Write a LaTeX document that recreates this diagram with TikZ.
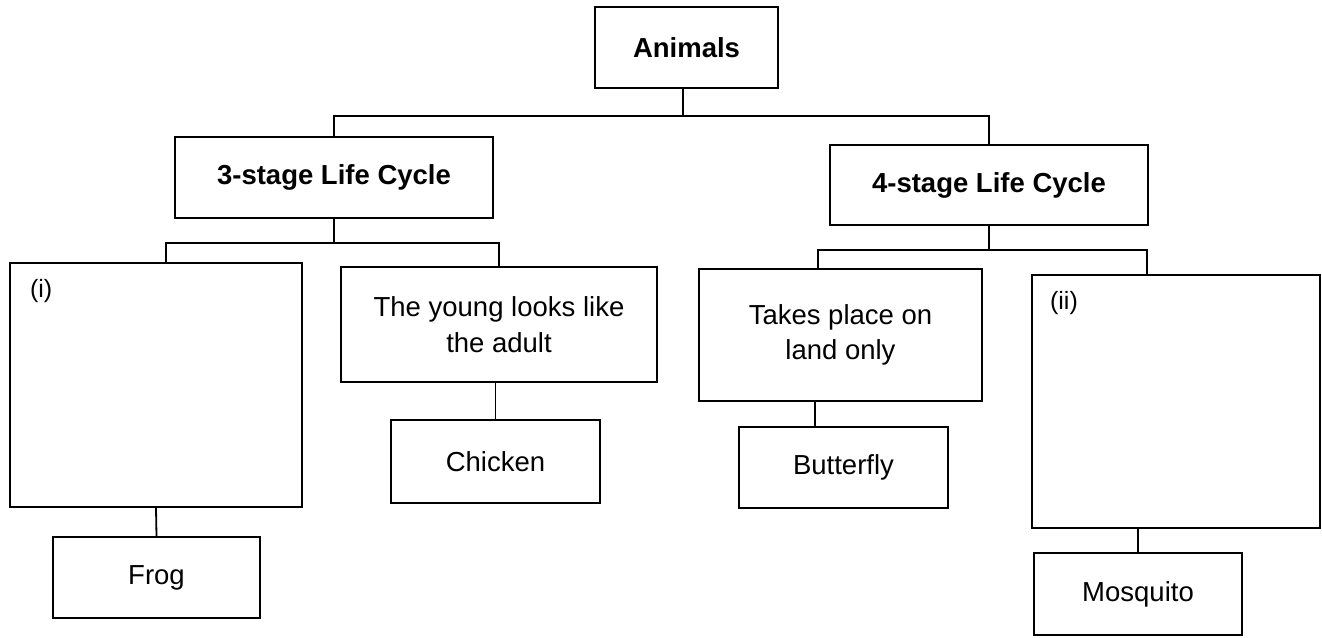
\documentclass[tikz,border=0pt]{standalone}
\usepackage{fontspec}
\setmainfont{Liberation Sans}
\begin{document}
\begin{tikzpicture}[x=1pt,y=-1pt,
  box/.style={draw=black, line width=2.2pt, rectangle, inner sep=0pt, align=center,
    font=\fontsize{27.5}{35.5}\selectfont},
  bbox/.style={box, font=\fontsize{27.5}{35.5}\selectfont\bfseries},
  conn/.style={draw=black, line width=1.8pt},
  tag/.style={anchor=north west, inner sep=0pt, font=\fontsize{25}{30}\selectfont}]
\useasboundingbox (0,0) rectangle (1322,637);
% level 0
\node[bbox, minimum width=183pt, minimum height=81pt] (animals) at (686.5,47.5) {Animals};
% level 1
\node[bbox, minimum width=318pt, minimum height=81pt] (three) at (334,177.5) {3-stage Life Cycle};
\node[bbox, minimum width=318pt, minimum height=80pt] (four) at (989,185) {4-stage Life Cycle};
% level 2
\node[box, minimum width=292pt, minimum height=244pt] (boxi) at (156,385) {};
\node[box, minimum width=316pt, minimum height=115pt] (young) at (499,324.5) {The young looks like\\the adult};
\node[box, minimum width=283pt, minimum height=132pt] (takes) at (840.5,335) {Takes place on\\land only};
\node[box, minimum width=288pt, minimum height=253pt] (boxii) at (1176,401.5) {};
\node[tag] (labi) at ([xshift=21pt,yshift=-17pt]boxi.north west) {(i)};
\node[tag] (labii) at ([xshift=19pt,yshift=-17pt]boxii.north west) {(ii)};
% level 3
\node[box, minimum width=207pt, minimum height=81pt] (frog) at (156.5,577.5) {Frog};
\node[box, minimum width=209pt, minimum height=83pt] (chicken) at (495.5,461.5) {Chicken};
\node[box, minimum width=209pt, minimum height=81pt] (butterfly) at (843.5,467.5) {Butterfly};
\node[box, minimum width=208pt, minimum height=82pt] (mosquito) at (1138,594) {Mosquito};
% bus coordinates
\coordinate (b1) at (683,116);
\coordinate (b2l) at (166,243);
\coordinate (b2r) at (499,243);
\coordinate (b3l) at (818,250);
\coordinate (b3r) at (1147,250);
\coordinate (c1) at (815,0);
% connectors
\draw[conn] (b1 |- animals.south) -- (b1);
\draw[conn] (three.north) |- (b1) -| (four.north);
\draw[conn] (three.south) -- (three.south |- b2l);
\draw[conn] (b2l |- boxi.north) -- (b2l) -- (b2r) -- (young.north);
\draw[conn] (four.south) -- (four.south |- b3l);
\draw[conn] (b3l |- takes.north) -- (b3l) -- (b3r) -- (b3r |- boxii.north);
\draw[conn] (boxi.south) -- (frog.north);
\draw[conn] (chicken.north |- young.south) -- (chicken.north);
\draw[conn] (takes.south -| c1) -- (butterfly.north -| c1);
\draw[conn] (boxii.south -| mosquito.north) -- (mosquito.north);
\end{tikzpicture}
\end{document}
